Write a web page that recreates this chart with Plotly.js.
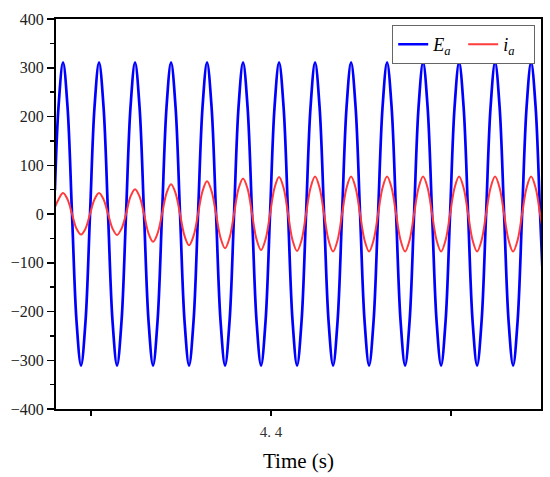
<!DOCTYPE html>
<html>
<head>
<meta charset="utf-8">
<script src="https://cdn.plot.ly/plotly-3.0.1.min.js"></script>
<style>html,body{margin:0;padding:0;background:#fff;}</style>
</head>
<body>
<div id="chart" style="width:550px;height:477px;"></div>
<script>
// Time (s)
const time = [4.28,
  4.282,4.2845,4.287,4.2895,4.292,4.2945,4.297,4.2995,
  4.302,4.3045,4.307,4.3095,4.312,4.3145,4.317,4.3195,
  4.322,4.3245,4.327,4.3295,4.332,4.3345,4.337,4.3395,
  4.342,4.3445,4.347,4.3495,4.352,4.3545,4.357,4.3595,
  4.362,4.3645,4.367,4.3695,4.372,4.3745,4.377,4.3795,
  4.382,4.3845,4.387,4.3895,4.392,4.3945,4.397,4.3995,
  4.402,4.4045,4.407,4.4095,4.412,4.4145,4.417,4.4195,
  4.422,4.4245,4.427,4.4295,4.432,4.4345,4.437,4.4395,
  4.442,4.4445,4.447,4.4495,4.452,4.4545,4.457,4.4595,
  4.462,4.4645,4.467,4.4695,4.472,4.4745,4.477,4.4795,
  4.482,4.4845,4.487,4.4895,4.492,4.4945,4.497,4.4995,
  4.502,4.5045,4.507,4.5095,4.512,4.5145,4.517,4.5195,
  4.522,4.5245,4.527,4.5295,4.532,4.5345,4.537,4.5395,
  4.542,4.5445,4.547,4.5495,4.552];

// E_a (V)
const Ea = [49,
  220,311,220,0,-220,-311,-220,0,
  220,311,220,0,-220,-311,-220,0,
  220,311,220,0,-220,-311,-220,0,
  220,311,220,0,-220,-311,-220,0,
  220,311,220,0,-220,-311,-220,0,
  220,311,220,0,-220,-311,-220,0,
  220,311,220,0,-220,-311,-220,0,
  220,311,220,0,-220,-311,-220,0,
  220,311,220,0,-220,-311,-220,0,
  220,311,220,0,-220,-311,-220,0,
  220,311,220,0,-220,-311,-220,0,
  220,311,220,0,-220,-311,-220,0,
  220,311,220,0,-220,-311,-220,0,
  220,311,220,0,-220];

// i_a (A)
const ia = [14,
  30,43,30,0,-30,-42,-30,0,
  30,43,30,0,-30,-43,-30,0,
  36,51,36,0,-40,-57,-40,0,
  43,61,43,0,-45,-64,-45,0,
  47,67,47,0,-49,-70,-49,0,
  52,73,52,0,-52,-74,-52,0,
  54,76,54,0,-54,-76,-54,0,
  54,77,54,0,-54,-77,-54,0,
  54,77,54,0,-54,-77,-54,0,
  54,77,54,0,-54,-77,-54,0,
  54,77,54,0,-54,-77,-54,0,
  54,77,54,0,-54,-77,-54,0,
  54,77,54,0,-54,-77,-54,0,
  54,77,54,0,-54];

const xTickVals = [4.4];
const xTickText = ["4. 4"];
const xMinorTick0 = 4.3;
const xMinorStep = 0.1;
const yTickVals = [-400, -300, -200, -100, 0, 100, 200, 300, 400];

const serif = "Liberation Serif";

const traces = [
  {x: time, y: Ea, type: "scatter", mode: "lines", name: "<i>E<sub>a</sub></i>",
   line: {color: "#0000ff", width: 2.7, shape: "spline", smoothing: 1}},
  {x: time, y: ia, type: "scatter", mode: "lines", name: "<i>i<sub>a</sub></i>",
   line: {color: "#ff3b3b", width: 2, shape: "spline", smoothing: 1}}
];

const layout = {
  width: 550, height: 477,
  margin: {l: 56, r: 9, t: 19, b: 68},
  paper_bgcolor: "#fff", plot_bgcolor: "#fff",
  font: {family: serif, size: 16, color: "#222"},
  showlegend: true,
  legend: {
    orientation: "h", x: 0.9876, xanchor: "right", y: 0.985, yanchor: "top",
    bgcolor: "#fff", bordercolor: "#666", borderwidth: 1.2,
    font: {family: serif, size: 18, color: "#000"},
    entrywidth: 25, tracegroupgap: 0
  },
  xaxis: {
    range: [4.2806, 4.55], showgrid: false, zeroline: false,
    showline: true, linecolor: "#000", linewidth: 2, mirror: true,
    ticks: "outside", ticklen: 5, tickwidth: 1.5, tickcolor: "#000",
    tickmode: "array", tickvals: xTickVals, ticktext: xTickText,
    ticklabelstandoff: 3,
    tickfont: {family: serif, size: 15, color: "#333"},
    minor: {ticks: "outside", ticklen: 5, tickwidth: 1.5, tickcolor: "#000",
            tick0: xMinorTick0, dtick: xMinorStep, showgrid: false},
    title: {text: "Time (s)", font: {family: serif, size: 21, color: "#000"}, standoff: 14}
  },
  yaxis: {
    range: [-400, 400], showgrid: false, zeroline: false,
    showline: true, linecolor: "#000", linewidth: 2, mirror: true,
    ticks: "outside", ticklen: 7, tickwidth: 1.5, tickcolor: "#000",
    tickmode: "array", tickvals: yTickVals,
    tickfont: {family: serif, size: 16, color: "#222"},
    minor: {ticks: "outside", ticklen: 4, tickwidth: 1.5, tickcolor: "#000", dtick: 50, showgrid: false}
  }
};

Plotly.newPlot("chart", traces, layout, {displayModeBar: false, staticPlot: true});
</script>
</body>
</html>
